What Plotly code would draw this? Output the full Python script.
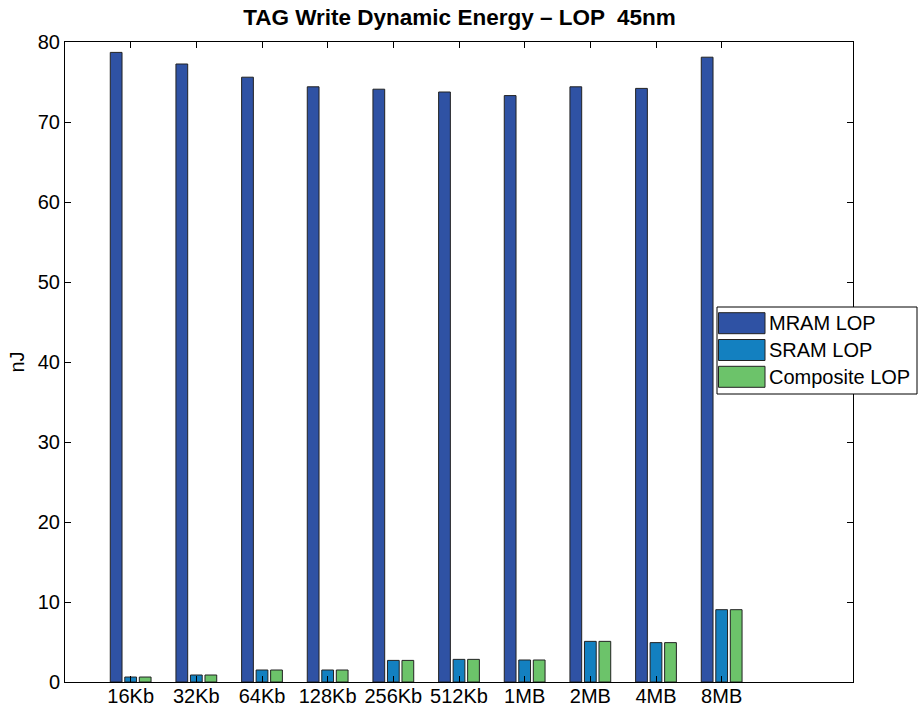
import plotly.graph_objects as go

# Cache sizes and TAG write dynamic energy (nJ), 45nm LOP
sizes = ["16Kb", "32Kb", "64Kb", "128Kb", "256Kb", "512Kb", "1MB", "2MB", "4MB", "8MB"]
mram_lop = [78.7, 77.25, 75.6, 74.4, 74.1, 73.75, 73.3, 74.4, 74.2, 78.1]
sram_lop = [0.62, 0.875, 1.5, 1.5, 2.7, 2.83, 2.75, 5.08, 4.92, 9.04]
composite_lop = [0.62, 0.875, 1.5, 1.5, 2.7, 2.83, 2.75, 5.08, 4.92, 9.04]

series_names = ["MRAM LOP", "SRAM LOP", "Composite LOP"]
series_colors = ["#2f52a4", "#1380c0", "#6cc36a"]
series_values = [mram_lop, sram_lop, composite_lop]

positions = list(range(1, len(sizes) + 1))
FONT = "Liberation Sans, Arial, Helvetica, sans-serif"

fig = go.Figure()
for name, color, vals in zip(series_names, series_colors, series_values):
    fig.add_trace(go.Bar(
        x=positions, y=vals, name=name,
        marker=dict(color=color, line=dict(color="#222222", width=1)),
        showlegend=False,
    ))

W, H = 919, 713
ML, MR, MT, MB = 65, 66, 42, 31
PW, PH = W - ML - MR, H - MT - MB


def px(x):
    return (x - ML) / PW


def py(y):
    return (H - MB - y) / PH


# Boxed legend on the right-hand side
shapes = [dict(type="rect", xref="paper", yref="paper",
               x0=px(717), x1=px(917), y0=py(394), y1=py(307),
               line=dict(color="black", width=1), fillcolor="white", layer="above")]
annotations = []
row_tops = [312.7, 339.5, 366.3]
for top, name, color in zip(row_tops, series_names, series_colors):
    shapes.append(dict(type="rect", xref="paper", yref="paper",
                       x0=px(718.5), x1=px(765), y0=py(top + 21), y1=py(top),
                       line=dict(color="#222222", width=1), fillcolor=color, layer="above"))
    annotations.append(dict(xref="paper", yref="paper", x=px(767), y=py(top + 10.5),
                            text=name, showarrow=False, xanchor="left", yanchor="middle",
                            font=dict(family=FONT, size=20, color="black")))

fig.update_layout(
    width=W, height=H,
    margin=dict(l=ML, r=MR, t=MT, b=MB, autoexpand=False),
    paper_bgcolor="white", plot_bgcolor="white",
    barmode="group", bargap=0.337, bargroupgap=0.19,
    title=dict(text="<b>TAG Write Dynamic Energy – LOP  45nm</b>",
               x=0.5, xanchor="center", y=1 - 17 / H, yanchor="middle",
               font=dict(family=FONT, size=22.5, color="black")),
    shapes=shapes, annotations=annotations,
    font=dict(family=FONT, size=20, color="black"),
)
fig.update_xaxes(
    range=[0, 12], tickvals=positions, ticktext=sizes,
    ticks="inside", ticklen=6, tickcolor="black",
    showline=True, linecolor="black", linewidth=1, mirror="ticks",
    showgrid=False, zeroline=False, automargin=False,
    ticklabelstandoff=-4,
    tickfont=dict(family=FONT, size=20, color="black"),
)
fig.update_yaxes(
    range=[0, 80], tickvals=list(range(0, 81, 10)),
    ticks="inside", ticklen=6, tickcolor="black",
    showline=True, linecolor="black", linewidth=1, mirror="ticks",
    showgrid=False, zeroline=False, automargin=False,
    title=dict(text="nJ", font=dict(family=FONT, size=20, color="black"), standoff=7),
    tickfont=dict(family=FONT, size=20, color="black"),
)

fig.write_html("out.html")
